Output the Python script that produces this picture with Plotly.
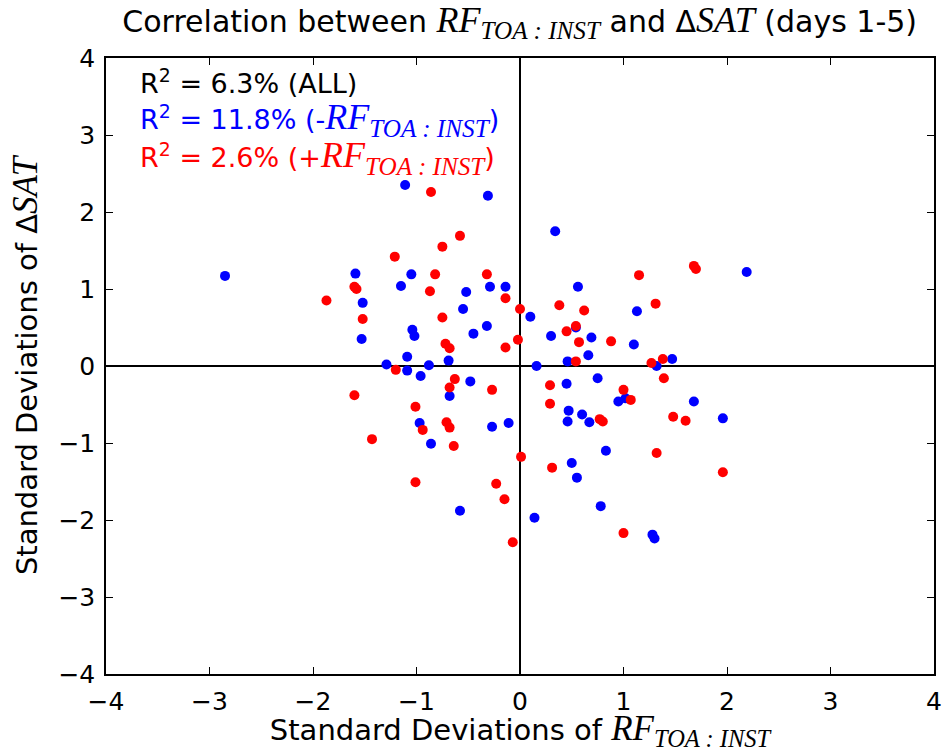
import plotly.graph_objects as go

# points (standard deviations)
neg_x = [-1.11, -0.31, -2.85, -1.59, -1.05, -1.15, -0.29, -0.14, -0.52, -1.52,
         -0.55, -0.32, -1.04, -1.02, -0.45, -1.53, -1.09, -0.69, -1.29, -0.88,
         -1.09, -0.96, -0.48, -0.68, -0.97, -0.27, -0.11, -0.86, -0.58, 0.34,
         2.19, 0.56, 0.10, 1.13, 0.54, 0.30, 0.69, 1.10, 0.66, 0.46,
         1.47, 1.32, 0.16, 0.75, 0.45, 0.95, 1.02, 1.68, 0.47, 0.46,
         0.60, 0.67, 1.96, 0.83, 0.50, 0.55, 0.78, 0.14, 1.28, 1.30]
neg_y = [2.35, 2.21, 1.17, 1.20, 1.19, 1.04, 1.03, 1.03, 0.96, 0.82,
         0.74, 0.52, 0.47, 0.39, 0.42, 0.35, 0.12, 0.07, 0.02, 0.01,
         -0.06, -0.13, -0.20, -0.39, -0.74, -0.79, -0.74, -1.01, -1.88, 1.75,
         1.22, 1.03, 0.64, 0.71, 0.50, 0.39, 0.37, 0.28, 0.14, 0.06,
         0.09, 0.00, 0.00, -0.16, -0.23, -0.46, -0.42, -0.46, -0.58, -0.72,
         -0.63, -0.73, -0.68, -1.10, -1.26, -1.45, -1.82, -1.97, -2.19, -2.24]

pos_x = [-0.86, -0.58, -0.75, -1.21, -0.82, -0.32, -1.60, -1.58, -0.87, -1.87,
         -0.14, 0.00, -1.52, -0.75, -0.02, -0.72, -0.68, -0.14, -1.20, -0.63,
         -0.68, -0.27, -1.60, -1.01, -0.71, -0.68, -0.94, -1.43, -0.64, 0.01,
         -1.01, -0.23, -0.15, -0.07, 1.68, 1.70, 1.15, 1.31, 0.38, 0.62,
         0.54, 0.45, 0.57, 0.88, 0.54, 1.27, 1.38, 1.39, 0.29, 1.00,
         1.07, 0.29, 0.77, 0.80, 1.48, 1.60, 1.32, 0.31, 1.96, 1.00]
pos_y = [2.26, 1.69, 1.55, 1.42, 1.19, 1.19, 1.03, 1.00, 0.97, 0.85,
         0.88, 0.74, 0.61, 0.63, 0.34, 0.29, 0.23, 0.24, -0.05, -0.17,
         -0.28, -0.31, -0.38, -0.53, -0.73, -0.80, -0.83, -0.95, -1.04, -1.18,
         -1.51, -1.53, -1.73, -2.29, 1.30, 1.26, 1.18, 0.81, 0.79, 0.72,
         0.52, 0.45, 0.31, 0.32, 0.06, 0.04, 0.09, -0.16, -0.25, -0.31,
         -0.44, -0.49, -0.69, -0.72, -0.66, -0.71, -1.13, -1.32, -1.38, -2.17]

r2_labels = ['R<sup>2</sup> = 6.3% (ALL)',
             'R<sup>2</sup> = 11.8% (-{rf})',
             'R<sup>2</sup> = 2.6% (+{rf})']
r2_colors = ['black', 'blue', 'red']


def math(txt, size):
    return (f"<span style=\"font-family:'Liberation Serif';font-style:italic;"
            f"font-size:{size}px\">{txt}</span>")


def rf(size):
    return math("RF<sub>TOA : INST</sub>", size)


fig = go.Figure()
fig.add_trace(go.Scatter(x=neg_x, y=neg_y, mode='markers',
                         marker=dict(color='blue', size=10), showlegend=False))
fig.add_trace(go.Scatter(x=pos_x, y=pos_y, mode='markers',
                         marker=dict(color='red', size=10), showlegend=False))

for i, (lab, col) in enumerate(zip(r2_labels, r2_colors)):
    fig.add_annotation(x=-3.68, y=3.69 - 0.49 * i, xref='x', yref='y',
                       text=lab.format(rf=rf(36)), showarrow=False, xanchor='left',
                       yanchor='middle', borderpad=0,
                       font=dict(color=col, size=27))

axis = dict(range=[-4, 4], dtick=1, ticks='inside', ticklen=7, tickwidth=1,
            tickcolor='black', showgrid=False, showline=True, linecolor='black',
            linewidth=1.5, mirror='allticks', zeroline=True,
            zerolinecolor='black', zerolinewidth=1.5, automargin=False,
            ticklabelstandoff=4, tickfont=dict(size=25, color='black'))

fig.update_layout(
    width=944, height=752,
    margin=dict(l=106, r=10, t=58, b=78),
    plot_bgcolor='white', paper_bgcolor='white',
    font=dict(family='DejaVu Sans', color='black'),
    title=dict(text=f"Correlation between {rf(36)} and Δ{math('SAT', 36)} (days 1-5)",
               x=0.5505, xanchor='center', y=0.972, yanchor='middle',
               font=dict(size=30)),
    xaxis=dict(axis, title=dict(text=f"Standard Deviations of {rf(35)}",
                                font=dict(size=29), standoff=5)),
    yaxis=dict(axis, title=dict(text=f"Standard Deviations of Δ{math('SAT', 35)}",
                                font=dict(size=29), standoff=12)),
)

# page body has an 8px default margin; drop it so the figure sits at 0,0
fig.write_html("out.html", config={'displayModeBar': False},
               post_script="document.body.style.margin='0';")
